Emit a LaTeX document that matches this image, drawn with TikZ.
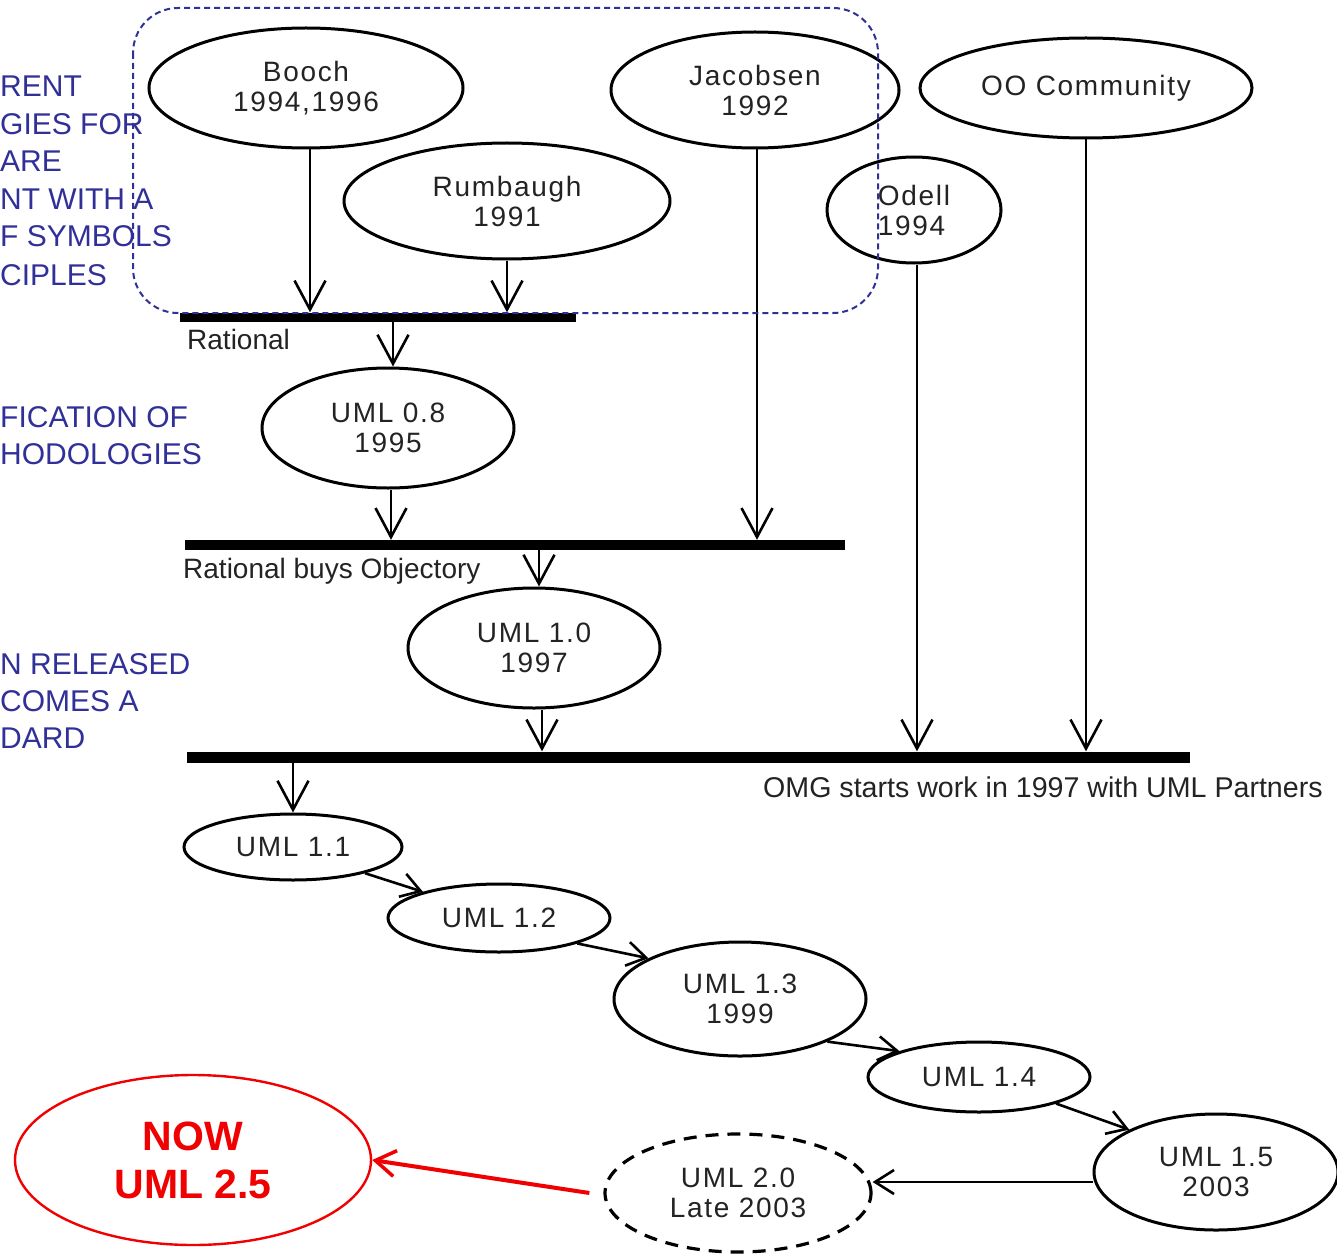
\documentclass[tikz,border=0pt]{standalone}
\usepackage{fontspec}
\setmainfont{Liberation Sans}
\newfontfamily\ellfont[LetterSpace=6]{Liberation Sans}
\usetikzlibrary{shapes.geometric,arrows.meta,calc}
\definecolor{dtext}{RGB}{35,35,35}
\definecolor{navy}{RGB}{48,48,152}
\definecolor{nowred}{RGB}{240,0,0}
\begin{document}
\begin{tikzpicture}[x=1pt,y=-1pt,
  ell/.style={ellipse,draw,line width=3pt,inner sep=0pt,text=dtext,align=center,
    font=\ellfont\fontsize{28}{30}\selectfont},
  bar/.style={fill=black,inner sep=0pt},
  arr/.style={line width=2.6pt,-{Straight Barb[length=29pt,width=31pt,line width=2.6pt]}},
  sarr/.style={line width=2.6pt,-{Straight Barb[length=19pt,width=24pt,line width=2.6pt]}},
  lbl/.style={inner sep=0pt,anchor=base west,text=dtext,font=\fontsize{28}{30}\selectfont},
  bluetxt/.style={inner sep=0pt,anchor=base west,text=navy,font=\fontsize{30}{36}\selectfont},
]
\useasboundingbox (0,0) rectangle (1337,1257);
\fill[white] (0,0) rectangle (1337,1257);

% left blue text (fragments at the left edge)
\node[bluetxt] (t1) at (0,97) {RENT};
\node[bluetxt] (t2) at (0,135) {GIES FOR};
\node[bluetxt] (t3) at (0,172) {ARE};
\node[bluetxt] (t4) at (0,210) {NT WITH A};
\node[bluetxt] (t5) at (0,247) {F SYMBOLS};
\node[bluetxt] (t6) at (0,285) {CIPLES};
\node[bluetxt] (t7) at (0,427) {FICATION OF};
\node[bluetxt] (t8) at (0,464) {HODOLOGIES};
\node[bluetxt] (t9) at (0,674) {N RELEASED};
\node[bluetxt] (t10) at (0,711) {COMES A};
\node[bluetxt] (t11) at (0,748) {DARD};

% ellipses
\node[ell,minimum width=314,minimum height=120] (booch) at (306,88) {Booch\\1994,1996};
\node[ell,minimum width=288,minimum height=116] (jac) at (755,90) {Jacobsen\\1992};
\node[ell,minimum width=332,minimum height=100] (oo) at (1086,88) {OO Community};
\node[ell,minimum width=326,minimum height=116] (rum) at (507,201) {Rumbaugh\\1991};
\node[ell,minimum width=174,minimum height=106,align=left] (odell) at (914,210) {Odell\\1994};
\node[ell,minimum width=252,minimum height=120] (uml08) at (388,428) {UML 0.8\\1995};
\node[ell,minimum width=252,minimum height=120] (uml10) at (534,648) {UML 1.0\\1997};
\node[ell,minimum width=218,minimum height=66] (uml11) at (293,847) {UML 1.1};
\node[ell,minimum width=222,minimum height=68] (uml12) at (499,918) {UML 1.2};
\node[ell,minimum width=252,minimum height=114] (uml13) at (740,999) {UML 1.3\\1999};
\node[ell,minimum width=222,minimum height=70] (uml14) at (979,1077) {UML 1.4};
\node[ell,minimum width=244,minimum height=116] (uml15) at (1216,1172) {UML 1.5\\2003};
\node[ell,minimum width=266,minimum height=118,dash pattern=on 13pt off 9pt,line width=3.2pt] (uml20) at (738,1193) {UML 2.0\\Late 2003};
\node[ellipse,draw=nowred,line width=2.4pt,minimum width=356,minimum height=170,inner sep=0pt,
  text=nowred,align=center,font=\bfseries\fontsize{41}{48}\selectfont] (now) at (193,1160) {NOW\\UML 2.5};

% bars
\node[bar,minimum width=396,minimum height=9] (bar1) at (378,317) {};
\node[bar,minimum width=660,minimum height=10] (bar2) at (515,545) {};
\node[bar,minimum width=1003,minimum height=11] (bar3) at (688,757) {};

% bar labels
\node[lbl] (lrat) at (187,349) {Rational};
\node[lbl] (lrbo) at (183,578) {Rational buys Objectory};
\node[lbl,font=\fontsize{28.6}{30}\selectfont] (lomg) at (763,797) {OMG starts work in 1997 with UML Partners};

% connectors
\draw[arr] ([xshift=4pt]booch.south) -- ([xshift=4pt]booch.south |- bar1.north);
\draw[arr] (rum.south) -- (rum.south |- bar1.north);
\draw[arr] ([xshift=5pt]bar1.south -| uml08.north) -- ([xshift=5pt]uml08.north);
\draw[arr] ([xshift=3pt]uml08.south) -- ([xshift=3pt]uml08.south |- bar2.north);
\draw[arr] ([xshift=2pt]jac.south) -- ([xshift=2pt]jac.south |- bar2.north);
\draw[arr] ([xshift=5pt]bar2.south -| uml10.north) -- ([xshift=5pt]uml10.north);
\draw[arr] ([xshift=8pt]uml10.south) -- ([xshift=8pt]uml10.south |- bar3.north);
\draw[arr] ([xshift=3pt]odell.south) -- ([xshift=3pt]odell.south |- bar3.north);
\draw[arr] (oo.south) -- (oo.south |- bar3.north);
\draw[arr] (bar3.south -| uml11.north) -- (uml11.north);
\draw[sarr] (uml11.-20) -- (uml12.161);
\draw[sarr] (uml12.-18) -- (uml13.156);
\draw[sarr] (uml13.-26) -- (uml14.162);
\draw[sarr] (uml14.-19) -- (uml15.154);
\draw[sarr] ([yshift=-10pt]uml15.west) -- ([yshift=-10pt]uml15.west -| uml20.east);
\draw[draw=nowred,line width=4pt,-{Straight Barb[length=20pt,width=26pt,line width=3.5pt]}]
  ([xshift=-14pt]uml20.west) -- (now.east);

% dashed blue grouping frame
\draw[navy,line width=2pt,dash pattern=on 6pt off 4pt,rounded corners=45pt]
  (133,8) rectangle (878,313);
\end{tikzpicture}
\end{document}
